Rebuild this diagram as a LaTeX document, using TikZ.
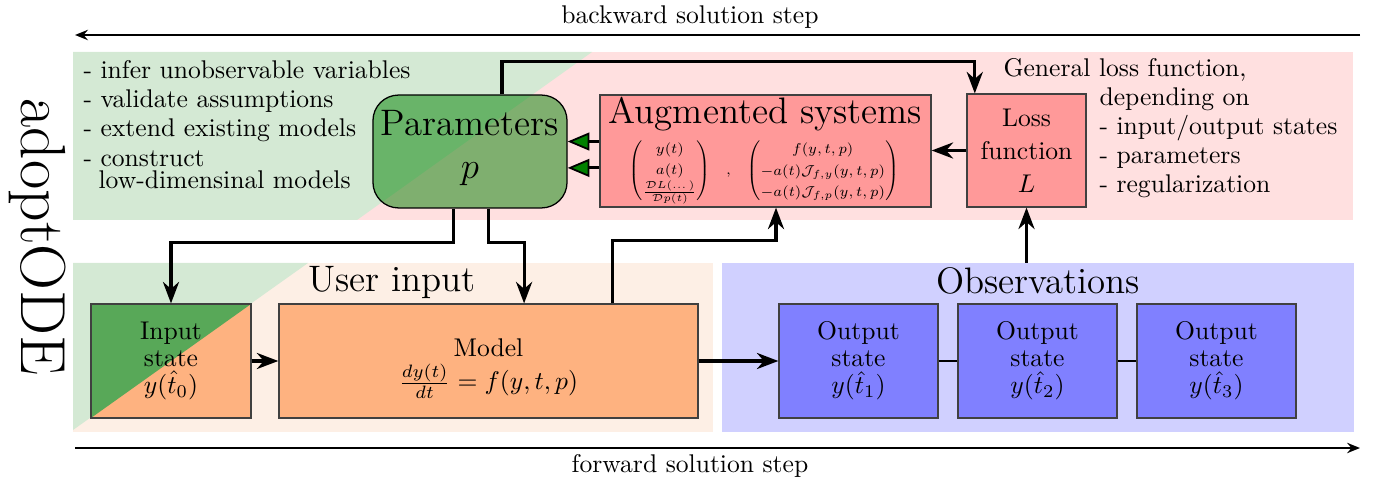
\documentclass[tikz,border=0pt]{standalone}
\usepackage{amsmath}
\usetikzlibrary{arrows.meta,calc}

\definecolor{bgGreen}{RGB}{212,233,212}
\definecolor{bgRed}{RGB}{255,224,224}
\definecolor{bgOrange}{RGB}{253,239,229}
\definecolor{bgBlue}{RGB}{208,208,255}
\definecolor{boxOrange}{RGB}{254,178,128}
\definecolor{inGreen}{RGB}{88,168,88}

\tikzset{
  box/.style={draw=black!75, line width=0.5pt, align=center, minimum height=44.5pt,
    inner sep=1pt, font=\fontsize{10}{10.6}\selectfont},
  arr/.style={very thick, -{Stealth}},
  garr/.style={very thick, -{Triangle[length=8.5pt,width=7pt,fill=green!50!black,line width=0.7pt]}},
  flow/.style={line width=1pt, -{Stealth[length=5pt,width=4pt]}},
  biglabel/.style={font=\Large, inner sep=0pt, anchor=base},
  notes/.style={align=left, inner sep=0pt, anchor=north west, font=\fontsize{10}{11.4}\selectfont}
}

\begin{document}
\begin{tikzpicture}[x=0.3906pt, y=-0.3906pt]
  \useasboundingbox (0,0) rectangle (1375,483);

  % backgrounds
  \fill[bgRed] (73,52) rectangle (1353,220);
  \fill[bgGreen] (73,52) -- (592,52) -- (357,220) -- (73,220) -- cycle;
  \fill[bgOrange] (73,263) rectangle (713,432);
  \fill[bgGreen] (73,263) -- (308,263) -- (73,430) -- cycle;
  \node[fill=bgBlue, minimum width=246.9pt, minimum height=66pt, inner sep=0pt] (obsbg) at (1038,347.5) {};

  \node[rotate=-90, font=\Huge, inner sep=0pt] (tool) at (38,237) {adoptODE};

  \coordinate (bwR) at (1360,35);
  \coordinate (bwL) at (75,35);
  \draw[flow] (bwR) -- (bwL);
  \node[anchor=base] (bwlabel) at (690,24) {backward solution step};
  \coordinate (fwL) at (75,448);
  \coordinate (fwR) at (1360,448);
  \draw[flow] (fwL) -- (fwR);
  \node[anchor=base] (fwlabel) at (690,472) {forward solution step};

  \node[notes] (goals) at (83,60) {- infer unobservable variables\\- validate assumptions\\- extend existing models\\- construct\\[-2.8pt]\hspace{5.9pt}low-dimensinal models};
  \node[anchor=base west, inner sep=0pt] (lossnote) at (1003,77) {General loss function,};
  \node[notes, font=\fontsize{10}{11.3}\selectfont] (lossitems) at (1099,87) {depending on\\- input/output states\\- parameters\\- regularization};

  \node[box, rounded corners=10pt, draw=black, fill=green!50!black, fill opacity=0.5, text opacity=1,
    minimum width=75.8pt, minimum height=44.1pt, font=\fontsize{14.4}{16.7}\selectfont] (params) at (470,151.5) {Parameters\\$p$\rule[-5.5pt]{0pt}{0pt}};
  \node[box, fill=red!40, minimum width=129.3pt, minimum height=43.75pt] (aug) at (765.5,151) {};
  \node[font=\Large, anchor=north, inner sep=1pt] (augtitle) at (aug.north) {Augmented systems};
  \node[font=\scriptsize, inner sep=0pt] (augmat) at (764,171) {\scalebox{0.8}{\setlength{\arraycolsep}{1pt}\renewcommand{\arraystretch}{1.3}$\begin{pmatrix} y(t)\\ a(t)\\ \frac{\mathcal{D}L(\dots)}{\mathcal{D}p(t)}\end{pmatrix}\hspace{6pt},\hspace{6pt}\begin{pmatrix} f(y,t,p)\\ -a(t)\mathcal{J}_{f,y}(y,t,p)\\ -a(t)\mathcal{J}_{f,p}(y,t,p)\end{pmatrix}$}};
  \node[box, fill=red!40, minimum width=46.5pt, minimum height=44.1pt, font=\fontsize{10}{12.9}\selectfont] (loss) at (1026.5,150.5) {Loss\\function\\$L$};

  \node[box, fill=boxOrange, minimum width=62.5pt,
    path picture={\fill[inGreen] (path picture bounding box.north west) -- (path picture bounding box.north east) -- (path picture bounding box.south west) -- cycle;}] (input) at (171,361) {Input\\state\\$y(\hat{t}_0)$};
  \node[box, fill=boxOrange, minimum width=163.7pt] (model) at (488.5,361) {\rule{0pt}{13pt}Model\\[2.5pt]$\frac{dy(t)}{dt}=f(y,t,p)$};
  \node[biglabel] (uilabel) at (392,292) {User input};

  \node[biglabel] (obslabel) at (1038,294) {Observations};
  \node[box, fill=blue!50, minimum width=62.1pt] (out1) at (858.5,361) {Output\\state\\$y(\hat{t}_1)$};
  \node[box, fill=blue!50, minimum width=62.1pt] (out2) at (1037.5,361) {Output\\state\\$y(\hat{t}_2)$};
  \node[box, fill=blue!50, minimum width=62.1pt] (out3) at (1216.5,361) {Output\\state\\$y(\hat{t}_3)$};

  \draw[arr] ([xshift=-6.6pt]params.south) -- ++(0,34) -| (input.north);
  \draw[arr] ([xshift=7.4pt]params.south) -- ++(0,34) -| ([xshift=13.9pt]model.north);
  \draw[arr] ([xshift=48.6pt]model.north) -- ++(0,-63) -| ([xshift=4.1pt]aug.south);
  \draw[arr] ([xshift=12.5pt]params.north) -- ++(0,-33) -| ([xshift=3.3pt]loss.north west);
  \draw[arr] (loss.south |- obsbg.north) -- (loss.south);
  \draw[arr] (loss.west) -- (loss.west -| aug.east);
  \draw[garr] ([yshift=3.7pt]aug.west) -- ([yshift=3.7pt]aug.west -| params.east);
  \draw[garr] ([yshift=-6.6pt]aug.west) -- ([yshift=-6.6pt]aug.west -| params.east);
  \draw[arr] (input) -- (model);
  \draw[arr] (model) -- (out1);
  \draw[thin] (out1) -- (out2) (out2) -- (out3);
\end{tikzpicture}
\end{document}
